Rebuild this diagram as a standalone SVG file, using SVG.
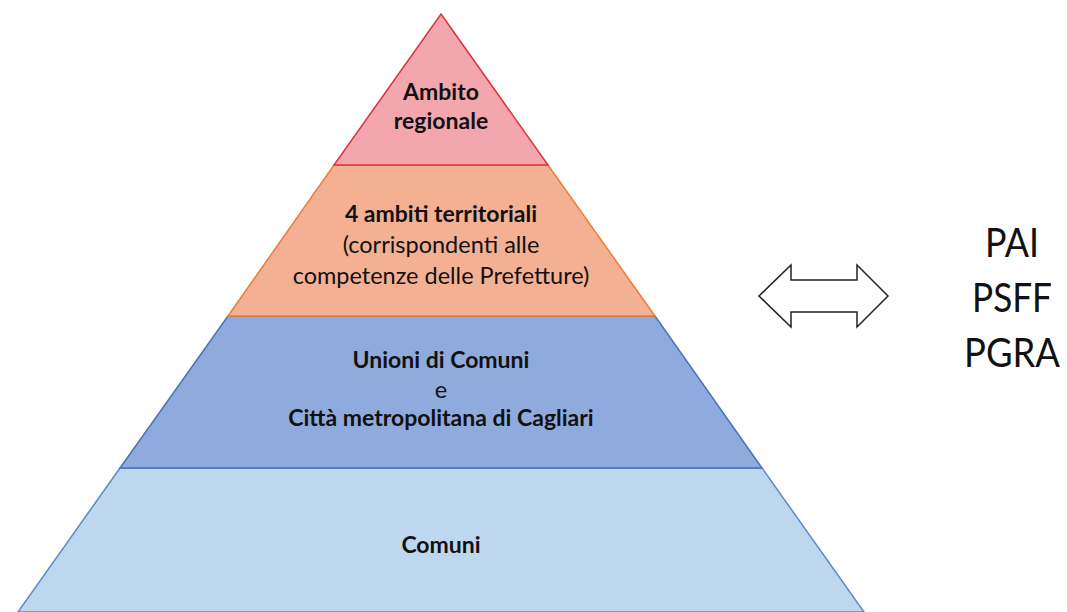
<svg xmlns="http://www.w3.org/2000/svg" width="1067" height="612" viewBox="0 0 1067 612">
<style>
text{font-family:Lato,"Open Sans","Liberation Sans",sans-serif;fill:#111;text-anchor:middle}
.b{font-weight:bold;font-size:23px}
.r{font-size:23.5px}
.big{font-size:41px}
</style>
<rect width="1067" height="612" fill="#fff"/>
<g id="layer4">
<polygon points="120,468 762,468 864,612 18,612" fill="#BDD7EE" stroke="#5B8BC7" stroke-width="1.5"/>
<text class="b" x="441" y="553">Comuni</text>
</g>
<g id="layer3">
<polygon points="228,316 655,316 762,468 120,468" fill="#8FAADC" stroke="#4A72B8" stroke-width="1.5"/>
<text class="b" x="441" y="368">Unioni di Comuni</text>
<text class="r" x="441" y="398">e</text>
<text class="b" x="441" y="426">Città metropolitana di Cagliari</text>
</g>
<g id="layer2">
<polygon points="334,165 548,165 655,316 228,316" fill="#F4B093" stroke="#ED7D31" stroke-width="1.5"/>
<text class="b" x="441" y="222">4 ambiti territoriali</text>
<text class="r" x="441" y="253">(corrispondenti alle</text>
<text class="r" x="441" y="284">competenze delle Prefetture)</text>
</g>
<g id="layer1">
<polygon points="441,14 548,165 334,165" fill="#F4A6AE" stroke="#E0323C" stroke-width="1.5"/>
<text class="b" x="441" y="100">Ambito</text>
<text class="b" x="441" y="129">regionale</text>
</g>
<g id="connectors">
<polygon points="759,296 791,265 791,280 857,280 857,265 888,296 857,327 857,312 791,312 791,327" fill="#fff" stroke="#222" stroke-width="1.5"/>
</g>
<g id="plans">
<text class="big" x="1012" y="257" textLength="54" lengthAdjust="spacingAndGlyphs">PAI</text>
<text class="big" x="1012" y="312" textLength="80" lengthAdjust="spacingAndGlyphs">PSFF</text>
<text class="big" x="1012" y="367" textLength="96" lengthAdjust="spacingAndGlyphs">PGRA</text>
</g>
</svg>
